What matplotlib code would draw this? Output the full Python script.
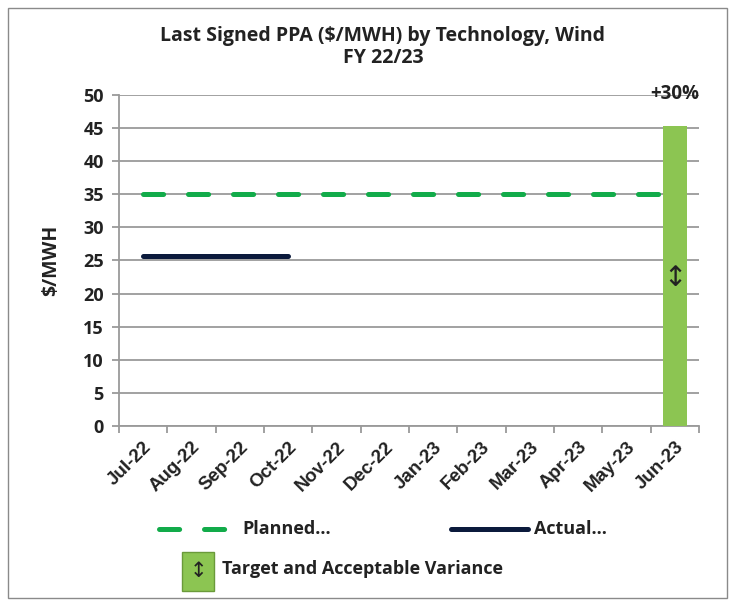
import numpy as np
import matplotlib.pyplot as plt
from matplotlib.lines import Line2D
from matplotlib.patches import Rectangle

plt.rcParams['lines.scale_dashes'] = False

months = ['Jul-22', 'Aug-22', 'Sep-22', 'Oct-22', 'Nov-22', 'Dec-22',
          'Jan-23', 'Feb-23', 'Mar-23', 'Apr-23', 'May-23', 'Jun-23']
planned = [35, 35, 35, 35, 35, 35, 35, 35, 35, 35, 35, 35]
actual = [25.7, 25.7, 25.7, 25.7]
target_value = 45.3
target_label = '+30%'

green = '#12ab4a'
navy = '#0b1a3c'
bar_green = '#8cc552'
grid_gray = '#9a9a9a'
text_col = '#222222'
font = 'Open Sans'

fig = plt.figure(figsize=(7.35, 6.03), dpi=100)
ax = fig.add_axes([0.162, 0.2935, 0.789, 0.549])

x = np.arange(len(months))

# бар целевого значения (поверх плановой линии)
ax.bar(x[-1], target_value, width=0.5, color=bar_green, zorder=4)
ax.text(x[-1], 50.2, target_label, ha='center', va='center', fontsize=13.5,
        fontweight='bold', family=font, color=text_col)
ax.text(x[-1], 22.3, '\u2195', ha='center', va='center', fontsize=20,
        family='DejaVu Sans', color=text_col, zorder=5)

# линии
ax.plot(x[:len(planned)], planned, color=green, lw=3.6, dashes=(14.5, 17.9),
        solid_capstyle='round', dash_capstyle='round', zorder=3)
ax.plot(x[:len(actual)], actual, color=navy, lw=3.6,
        solid_capstyle='round', zorder=3)

ax.set_xlim(-0.5, len(months) - 0.5)
ax.set_ylim(0, 50)
ax.set_yticks(np.arange(0, 51, 5))
ax.yaxis.grid(True, color=grid_gray, lw=1.3, zorder=0)
ax.set_axisbelow(True)

ax.set_xticks(x)
ax.set_xticklabels(months, rotation=45, ha='right', rotation_mode='anchor',
                   fontsize=13.5, fontweight='bold', family='Liberation Sans',
                   color=text_col)
ax.tick_params(axis='x', which='major', length=0, pad=9)
ax.set_xticks(np.arange(-0.5, len(months)), minor=True)
ax.tick_params(axis='x', which='minor', length=5, color=grid_gray, width=1.3)
ax.tick_params(axis='y', length=5, color=grid_gray, width=1.3, pad=6)
for lbl in ax.get_yticklabels():
    lbl.set_fontsize(13)
    lbl.set_fontweight('bold')
    lbl.set_family(font)
    lbl.set_color(text_col)

for side in ['top', 'right']:
    ax.spines[side].set_visible(False)
for side in ['left', 'bottom']:
    ax.spines[side].set_color(grid_gray)
    ax.spines[side].set_linewidth(1.3)

ax.set_ylabel('$/MWH', fontsize=14, fontweight='bold', family=font,
              color=text_col, labelpad=16)

fig.text(0.521, 0.922, 'Last Signed PPA ($/MWH) by Technology, Wind\nFY 22/23',
         ha='center', va='center', fontsize=14, fontweight='bold', family=font,
         color=text_col, linespacing=1.15)

# легенда вручную
fig.add_artist(Line2D([0.217, 0.31], [0.122, 0.122], color=green, lw=3.6,
                      dashes=(14.5, 17.9), dash_capstyle='round'))
fig.text(0.33, 0.122, 'Planned...', va='center', fontsize=13, fontweight='bold',
         family=font, color=text_col)
fig.add_artist(Line2D([0.614, 0.718], [0.122, 0.122], color=navy, lw=3.6,
                      solid_capstyle='round'))
fig.text(0.727, 0.122, 'Actual...', va='center', fontsize=13, fontweight='bold',
         family=font, color=text_col)
fig.add_artist(Rectangle((0.248, 0.02), 0.043, 0.064, transform=fig.transFigure,
                         facecolor=bar_green, edgecolor='#6a9a3a', lw=1))
fig.text(0.2695, 0.053, '\u2195', ha='center', va='center', fontsize=15,
         family='DejaVu Sans', color=text_col)
fig.text(0.302, 0.057, 'Target and Acceptable Variance', va='center',
         fontsize=13, fontweight='bold', family=font, color=text_col)

# рамка
fig.add_artist(Rectangle((0.011, 0.009), 0.978, 0.978, transform=fig.transFigure,
                         fill=False, edgecolor='#8a8a8a', lw=1))

fig.savefig('out.png', dpi=100)
